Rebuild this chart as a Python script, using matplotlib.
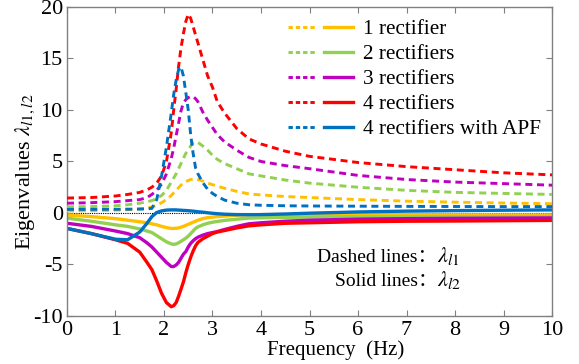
import matplotlib
matplotlib.use("Agg")
import matplotlib.pyplot as plt
from matplotlib.lines import Line2D
from matplotlib.legend_handler import HandlerTuple

plt.rcParams['font.family'] = ['Liberation Serif', 'Noto Sans CJK SC']
plt.rcParams['mathtext.fontset'] = 'stix'
plt.rcParams['axes.unicode_minus'] = False

# frequency grid (Hz)
freq = [0, 0.5, 1.0, 1.25, 1.5, 1.65, 1.75, 1.85, 1.95, 2.05, 2.15, 2.2, 2.25,
        2.3, 2.35, 2.4, 2.45, 2.5, 2.55, 2.6, 2.65, 2.7, 2.8, 2.9, 3.0, 3.1,
        3.25, 3.5, 3.75, 4.0, 4.5, 5, 6, 7, 8, 9, 10]

# lambda_l1 (dashed)
lam1_1 = [0.2, 0.22, 0.27, 0.32, 0.4, 0.5, 0.58, 0.75, 1.0, 1.3, 1.7, 1.95, 2.2,
          2.45, 2.7, 2.9, 3.05, 3.15, 3.25, 3.3, 3.3, 3.25, 3.1, 2.9, 2.75, 2.6,
          2.4, 2.1, 1.85, 1.75, 1.6, 1.5, 1.3, 1.15, 1.05, 0.97, 0.9]
lam1_2 = [0.6, 0.62, 0.7, 0.8, 0.95, 1.1, 1.2, 1.4, 1.7, 2.2, 3.0, 3.4, 3.8,
          4.3, 4.8, 5.3, 5.8, 6.1, 6.5, 6.8, 6.9, 6.85, 6.5, 6.1, 5.6, 5.2,
          4.8, 4.3, 3.8, 3.6, 3.2, 2.9, 2.5, 2.2, 2.0, 1.9, 1.8]
lam1_3 = [0.95, 1.0, 1.1, 1.2, 1.3, 1.5, 1.8, 2.2, 2.8, 3.8, 5.3, 6.3, 7.5,
          8.7, 9.9, 10.7, 11.0, 11.2, 11.3, 11.3, 11.1, 10.8, 9.8, 9.0, 8.3, 7.6,
          6.9, 6.1, 5.4, 5.0, 4.6, 4.3, 3.65, 3.25, 3.0, 2.85, 2.7]
lam1_4 = [1.45, 1.5, 1.65, 1.8, 2.0, 2.25, 2.5, 2.9, 3.6, 5.0, 7.8, 10.0, 12.0,
          14.2, 16.0, 17.4, 18.6, 19.3, 18.9, 18.1, 17.3, 16.5, 14.9, 13.3, 12.2, 10.8,
          9.7, 8.2, 7.2, 6.7, 6.0, 5.5, 4.9, 4.5, 4.2, 3.9, 3.7]
lam1_apf = [0.35, 0.35, 0.36, 0.37, 0.38, 0.4, 0.45, 1.3, 3.6, 6.4, 9.7, 11.5, 12.9,
            13.9, 14.2, 13.3, 11.7, 10.0, 7.6, 5.8, 4.4, 3.8, 2.95, 2.3, 1.9, 1.6,
            1.25, 0.95, 0.8, 0.75, 0.7, 0.68, 0.66, 0.64, 0.63, 0.62, 0.62]

# lambda_l2 (solid)
lam2_1 = [-0.2, -0.35, -0.55, -0.7, -0.85, -0.95, -1.05, -1.15, -1.3, -1.42, -1.5, -1.5, -1.48,
          -1.45, -1.38, -1.3, -1.2, -1.1, -1.0, -0.9, -0.8, -0.7, -0.55, -0.45, -0.4, -0.35,
          -0.3, -0.22, -0.18, -0.16, -0.15, -0.15, -0.16, -0.17, -0.18, -0.19, -0.2]
lam2_2 = [-0.5, -0.8, -1.15, -1.3, -1.55, -1.75, -1.9, -2.2, -2.5, -2.8, -3.0, -3.05, -3.0,
          -2.9, -2.75, -2.6, -2.45, -2.25, -2.0, -1.75, -1.5, -1.35, -1.15, -1.0, -0.9, -0.82,
          -0.72, -0.6, -0.5, -0.47, -0.43, -0.4, -0.38, -0.37, -0.36, -0.35, -0.35]
lam2_3 = [-1.0, -1.3, -1.75, -2.0, -2.4, -2.9, -3.3, -3.8, -4.3, -4.8, -5.2, -5.2, -5.05,
          -4.8, -4.4, -4.0, -3.75, -3.3, -2.95, -2.7, -2.5, -2.35, -2.15, -2.0, -1.9, -1.8,
          -1.6, -1.3, -1.05, -0.95, -0.8, -0.7, -0.6, -0.55, -0.52, -0.5, -0.48]
lam2_4 = [-1.5, -2.0, -2.6, -2.95, -3.8, -4.8, -5.5, -6.6, -7.8, -8.7, -9.1, -9.0, -8.7,
          -8.1, -7.4, -6.7, -5.8, -5.0, -4.3, -3.7, -3.2, -2.85, -2.5, -2.25, -2.0, -1.85,
          -1.7, -1.45, -1.25, -1.15, -1.0, -0.95, -0.85, -0.8, -0.78, -0.75, -0.72]
lam2_apf = [-1.5, -2.0, -2.55, -2.6, -1.85, -1.0, -0.35, 0.05, 0.2, 0.28, 0.3, 0.3, 0.3,
            0.28, 0.27, 0.25, 0.24, 0.22, 0.2, 0.18, 0.15, 0.12, 0.08, 0.02, -0.03, -0.07,
            -0.12, -0.16, -0.17, -0.16, -0.1, -0.02, 0.1, 0.18, 0.23, 0.27, 0.3]

labels = ['1 rectifier', '2 rectifiers', '3 rectifiers', '4 rectifiers',
          '4 rectifiers with APF']
colors = ['#FFC000', '#92D050', '#BF00BF', '#FF0000', '#0070C0']
lam1 = [lam1_1, lam1_2, lam1_3, lam1_4, lam1_apf]
lam2 = [lam2_1, lam2_2, lam2_3, lam2_4, lam2_apf]

fig = plt.figure(figsize=(5.79, 3.64), dpi=100)
ax = fig.add_axes([0.1157, 0.1319, 0.8377, 0.8489])

ax.axhline(0, color='black', lw=0.8, ls=(0, (1, 1)), zorder=1)

handles = []
for l2, c in zip(lam2, colors):
    ax.plot(freq, l2, color=c, lw=2.4, solid_joinstyle='round', zorder=2)
for l1, c in zip(lam1, colors):
    ax.plot(freq, l1, color=c, lw=2.1, dashes=(2.4, 1.6), zorder=3)
for c in colors:
    hd = Line2D([], [], color=c, lw=2.1, dashes=(1.5, 1.0))
    hs = Line2D([], [], color=c, lw=2.4)
    handles.append((hd, hs))

ax.set_xlim(0, 10)
ax.set_ylim(-10, 20)
ax.set_xticks(range(0, 11))
ax.set_yticks([-10, -5, 0, 5, 10, 15, 20])
ax.tick_params(direction='in', top=True, right=True, length=4, width=0.8,
               color='#808080', labelsize=16)
ax.tick_params(axis='x', pad=3.5)
ax.tick_params(axis='y', pad=3)
for sp in ax.spines.values():
    sp.set_color('#808080')
    sp.set_linewidth(1.0)

ax.set_xlabel('Frequency  (Hz)', fontsize=15)
ax.xaxis.set_label_coords(0.553, -0.08)
ax.set_ylabel(r'Eigenvalues $\lambda_{l1,l2}$', fontsize=16)
ax.yaxis.set_label_coords(-0.062, 0.466)

ax.legend(handles, labels, handler_map={tuple: HandlerTuple(ndivide=None, pad=0.33)},
          loc='upper left', bbox_to_anchor=(0.416, 1.022), frameon=False,
          fontsize=15.3, handlelength=3.06, handletextpad=0.47, labelspacing=0.24)

ax.text(0.763, 0.175, 'Dashed lines：', transform=ax.transAxes, ha='right',
        va='baseline', fontsize=14)
ax.text(0.763, 0.175, r'$\lambda_{l1}$', transform=ax.transAxes, ha='left',
        va='baseline', fontsize=16)
ax.text(0.763, 0.097, 'Solid lines：', transform=ax.transAxes, ha='right',
        va='baseline', fontsize=14)
ax.text(0.763, 0.097, r'$\lambda_{l2}$', transform=ax.transAxes, ha='left',
        va='baseline', fontsize=16)

fig.savefig('out.png', dpi=100)
